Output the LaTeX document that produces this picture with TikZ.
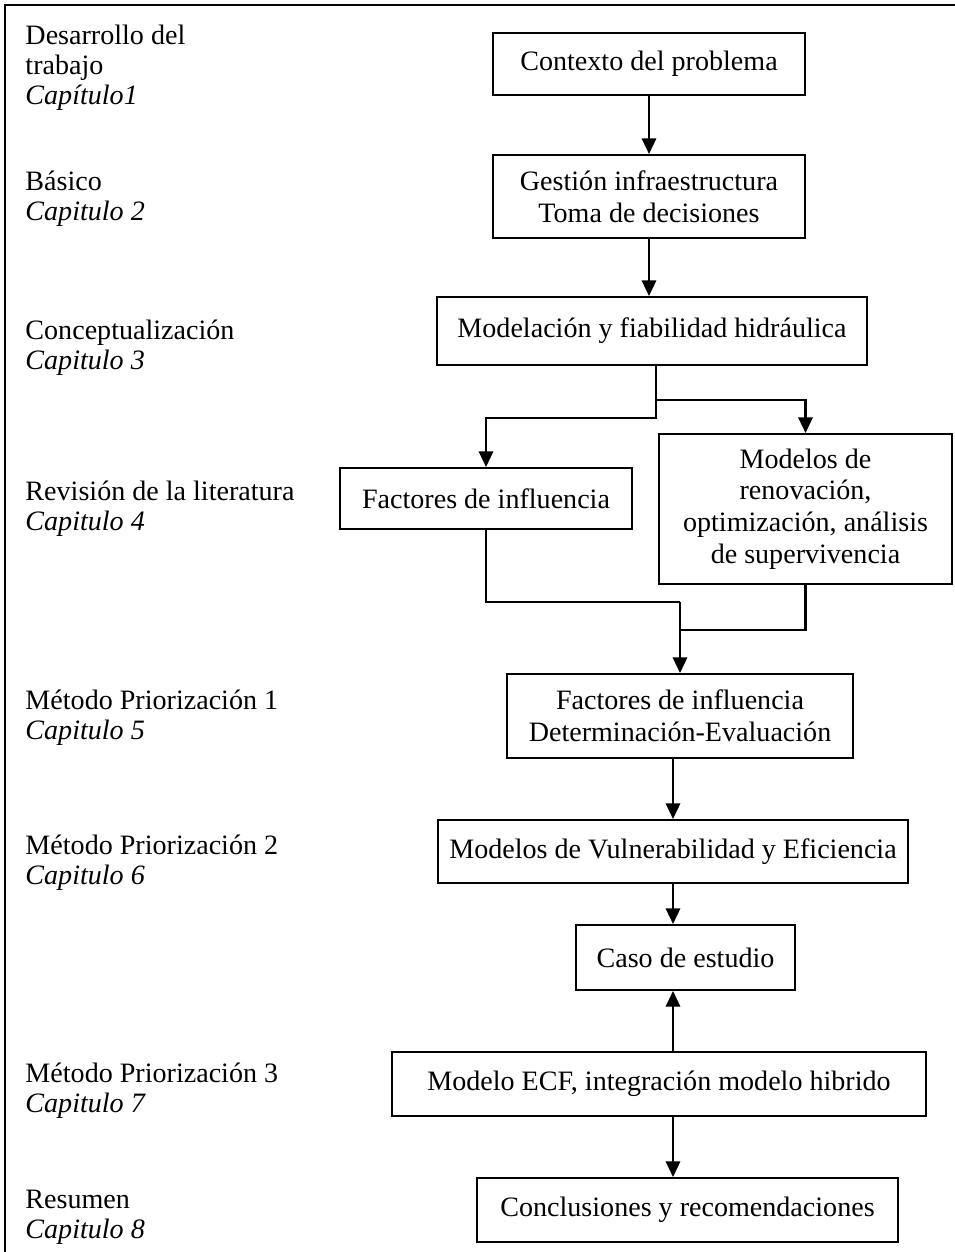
\documentclass[tikz,border=0pt]{standalone}
\usepackage{fontspec}
\setmainfont{Liberation Serif}
\usetikzlibrary{arrows.meta}
\begin{document}
\begin{tikzpicture}[x=0.41667pt,y=-0.41667pt,
  box/.style={draw,line width=0.85pt,align=center,inner sep=0pt,font=\fontsize{11.7}{13.2}\selectfont},
  bsize/.style 2 args={minimum width=#1*0.41667pt,minimum height=#2*0.41667pt},
  lbl/.style={anchor=west,align=left,inner sep=0pt,font=\fontsize{11.7}{12.5}\selectfont},
  arr/.style={line width=0.85pt,-{Triangle[length=6.5pt,width=6pt]}},
  ln/.style={line width=0.85pt}]
\useasboundingbox (0,0) rectangle (955,1252);
% frame
\draw[line width=0.9pt] (5,1252) -- (5,5) -- (955,5);
% labels
\node[lbl] (l1) at (25,68) {Desarrollo del\\trabajo\\\textit{Capítulo1}};
\node[lbl] (l2) at (25,199) {Básico\\\textit{Capitulo 2}};
\node[lbl] (l3) at (25,348) {Conceptualización\\\textit{Capitulo 3}};
\node[lbl] (l4) at (25,509) {Revisión de la literatura\\\textit{Capitulo 4}};
\node[lbl] (l5) at (25,718) {Método Priorización 1\\\textit{Capitulo 5}};
\node[lbl] (l6) at (25,863) {Método Priorización 2\\\textit{Capitulo 6}};
\node[lbl] (l7) at (25,1091) {Método Priorización 3\\\textit{Capitulo 7}};
\node[lbl] (l8) at (25,1217) {Resumen\\\textit{Capitulo 8}};
% boxes
\node[box,bsize={312}{62}] (b1) at (649,64) {Contexto del problema};
\node[box,bsize={312}{83}] (b2) at (649,196.5) {Gestión infraestructura\\Toma de decisiones};
\node[box,bsize={430}{68}] (b3) at (652,331) {Modelación y fiabilidad hidráulica};
\node[box,bsize={292}{61}] (b4) at (486,498.5) {Factores de influencia};
\node[box,bsize={293}{150}] (b5) at (805.5,509) {Modelos de\\renovación,\\optimización, análisis\\de supervivencia};
\node[box,bsize={346}{84}] (b6) at (680,716) {Factores de influencia\\Determinación-Evaluación};
\node[box,bsize={470}{63}] (b7) at (673,851.5) {Modelos de Vulnerabilidad y Eficiencia};
\node[box,bsize={219}{65}] (b8) at (685.5,957.5) {Caso de estudio};
\node[box,bsize={534}{64}] (b9) at (659,1084) {Modelo ECF, integración modelo hibrido};
\node[box,bsize={421}{64}] (b10) at (687.5,1210) {Conclusiones y recomendaciones};
% connectors
\draw[arr] (b1.south) -- (b2.north);
\draw[arr] (b2.south) -- (b2.south |- b3.north);
\coordinate (sp) at (656,365);
\draw[arr] (sp) -- ++(0,35) -| (b5.north);
\draw[arr] (sp) -- ++(0,53) -| (b4.north);
\coordinate (mg) at (680,602);
\coordinate (mg2) at (680,630);
\draw[ln] (b4.south) |- (mg);
\draw[ln] (b5.south) |- (mg2);
\draw[arr] (mg) -- (mg |- b6.north);
\draw[arr] (b7.north |- b6.south) -- (b7.north);
\draw[arr] (b7.south) -- (b7.south |- b8.north);
\draw[arr] (b7.south |- b9.north) -- (b7.south |- b8.south);
\draw[arr] (b7.south |- b9.south) -- (b7.south |- b10.north);
\end{tikzpicture}
\end{document}
